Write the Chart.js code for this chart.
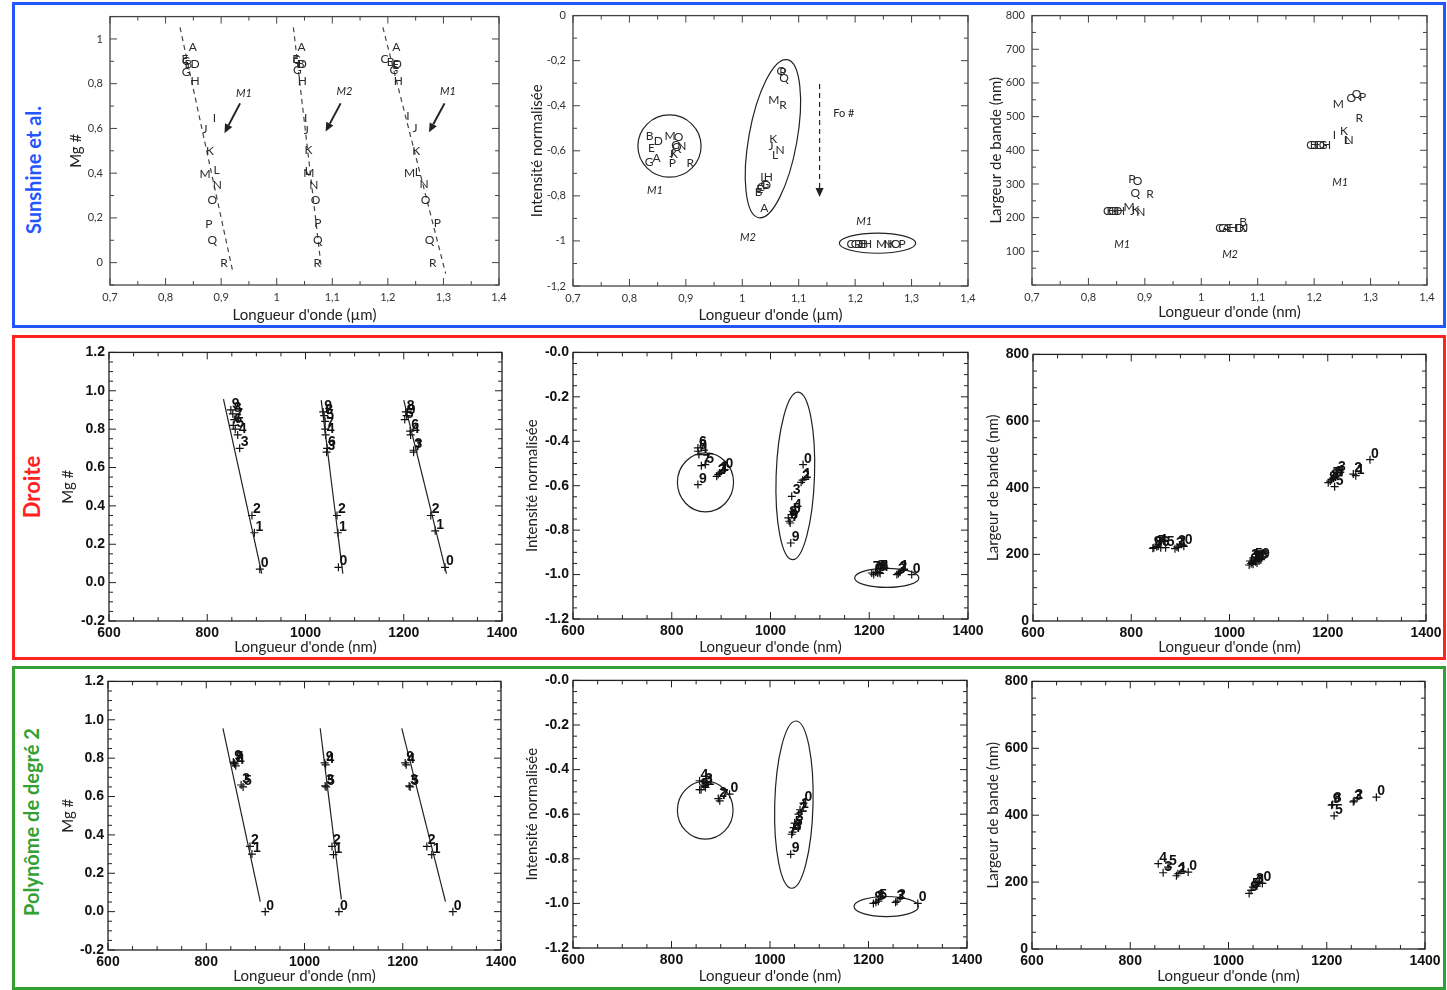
<!DOCTYPE html>
<html lang="fr">
<head>
<meta charset="utf-8">
<title>Mg# / intensité / largeur de bande</title>
<script src="https://cdn.jsdelivr.net/npm/chart.js@4.4.1/dist/chart.umd.min.js"></script>
<style>
  html, body { margin: 0; padding: 0; background: #fff; }
  body { position: relative; width: 1447px; height: 990px; overflow: hidden; font-family: Lato, sans-serif; }
  .cadre { position: absolute; box-sizing: border-box; border: 3px solid; }
  .titre-ligne { position: absolute; transform: translate(-50%, -50%) rotate(-90deg); font-weight: bold; font-size: 20px; white-space: nowrap; }
  canvas { position: absolute; }
</style>
</head>
<body>
<div class="cadre" style="left:12px;top:2px;width:1434px;height:326px;border-color:#2356ff"></div>
<div class="cadre" style="left:12px;top:335px;width:1434px;height:325px;border-color:#ff2222"></div>
<div class="cadre" style="left:12px;top:666px;width:1434px;height:324px;border-color:#33a033"></div>
<div class="titre-ligne" style="left:33px;top:170px;color:#2356ff">Sunshine et al.</div>
<div class="titre-ligne" style="left:31px;top:487px;color:#ff2222;font-size:22px">Droite</div>
<div class="titre-ligne" style="left:31px;top:822px;color:#33a033">Polynôme de degré 2</div>
<script>
// Graduations
const ticksMicron = [0.7, 0.8, 0.9, 1, 1.1, 1.2, 1.3, 1.4];
const ticksMgSun = [0, 0.2, 0.4, 0.6, 0.8, 1];
const ticksIntSun = [0, -0.2, -0.4, -0.6, -0.8, -1, -1.2];
const ticksLargSun = [100, 200, 300, 400, 500, 600, 700, 800];
const ticksNm = [600, 800, 1000, 1200, 1400];
const ticksMg = [-0.2, 0, 0.2, 0.4, 0.6, 0.8, 1, 1.2];
const ticksInt = [0, -0.2, -0.4, -0.6, -0.8, -1, -1.2];
const ticksLarg = [0, 200, 400, 600, 800];

// Sunshine et al. : Mg# (x en µm, y, échantillon)
const sunMgM1 = [[0.849,0.963,'A'],[0.837,0.899,'C'],[0.835,0.911,'E'],[0.841,0.889,'B'],[0.853,0.889,'D'],[0.837,0.852,'G'],[0.853,0.812,'H'],[0.888,0.648,'I'],[0.871,0.598,'J'],[0.880,0.498,'K'],[0.892,0.414,'L'],[0.871,0.394,'M'],[0.893,0.347,'N'],[0.884,0.281,'O'],[0.878,0.173,'P'],[0.884,0.102,'Q'],[0.905,0.0,'R']];
const sunMgM2 = [[1.0445,0.963,'A'],[1.036,0.905,'C'],[1.034,0.911,'E'],[1.043,0.889,'B'],[1.046,0.889,'D'],[1.037,0.86,'G'],[1.046,0.812,'H'],[1.052,0.648,'I'],[1.053,0.594,'J'],[1.057,0.501,'K'],[1.056,0.41,'L'],[1.058,0.402,'M'],[1.067,0.347,'N'],[1.070,0.281,'O'],[1.074,0.176,'P'],[1.074,0.099,'Q'],[1.073,0.0,'R']];
const sunMgM1b = [[1.215,0.963,'A'],[1.194,0.908,'C'],[1.205,0.896,'B'],[1.217,0.889,'D'],[1.214,0.884,'E'],[1.211,0.86,'G'],[1.219,0.812,'H'],[1.236,0.656,'I'],[1.249,0.601,'J'],[1.251,0.498,'K'],[1.254,0.405,'L'],[1.239,0.399,'M'],[1.265,0.350,'N'],[1.268,0.281,'O'],[1.289,0.177,'P'],[1.275,0.102,'Q'],[1.281,0.0,'R']];
const sunMgDroites = [[[0.826,1.052],[0.921,-0.041]], [[1.030,1.052],[1.080,-0.019]], [[1.191,1.052],[1.304,-0.049]]];

// Sunshine et al. : intensité normalisée
const sunIntM1 = [[0.836,-0.535,'B'],[0.851,-0.557,'D'],[0.872,-0.535,'M'],[0.887,-0.539,'O'],[0.881,-0.577,'C'],[0.884,-0.585,'Q'],[0.893,-0.579,'N'],[0.839,-0.586,'E'],[0.848,-0.633,'A'],[0.835,-0.652,'G'],[0.875,-0.612,'J'],[0.879,-0.615,'K'],[0.876,-0.655,'P'],[0.908,-0.655,'R']];
const sunIntM2 = [[1.069,-0.247,'O'],[1.072,-0.250,'P'],[1.074,-0.277,'Q'],[1.056,-0.373,'M'],[1.072,-0.398,'R'],[1.055,-0.550,'K'],[1.051,-0.579,'J'],[1.067,-0.599,'N'],[1.058,-0.619,'L'],[1.035,-0.716,'I'],[1.046,-0.716,'H'],[1.040,-0.749,'G'],[1.033,-0.760,'C'],[1.043,-0.752,'D'],[1.031,-0.770,'E'],[1.029,-0.785,'B'],[1.039,-0.855,'A']];
const sunIntM1b = [[1.192,-1.015,'C'],[1.200,-1.015,'G'],[1.206,-1.015,'D'],[1.211,-1.015,'E'],[1.216,-1.015,'B'],[1.222,-1.015,'H'],[1.247,-1.015,'M'],[1.258,-1.015,'N'],[1.264,-1.015,'K'],[1.272,-1.015,'O'],[1.283,-1.015,'P']];

// Sunshine et al. : largeur de bande
const sunLargM1 = [[0.833,219,'C'],[0.838,219,'E'],[0.843,219,'G'],[0.847,219,'B'],[0.852,219,'D'],[0.857,219,'H'],[0.872,231,'M'],[0.878,219,'J'],[0.884,222,'K'],[0.893,217,'N'],[0.877,314,'P'],[0.887,307,'O'],[0.883,272,'Q'],[0.909,270,'R']];
const sunLargM2 = [[1.032,168,'C'],[1.038,168,'G'],[1.044,168,'A'],[1.050,168,'E'],[1.056,168,'H'],[1.062,168,'I'],[1.068,168,'D'],[1.074,168,'K'],[1.079,168,'J'],[1.074,188,'B']];
const sunLargM1b = [[1.193,416,'C'],[1.199,416,'B'],[1.205,416,'E'],[1.211,416,'D'],[1.216,416,'G'],[1.222,416,'H'],[1.236,444,'I'],[1.253,457,'K'],[1.258,431,'L'],[1.262,431,'N'],[1.243,536,'M'],[1.266,554,'O'],[1.275,567,'Q'],[1.286,559,'P'],[1.280,497,'R']];

// Droite : Mg#
const droiteMgG1 = [[848,0.90,'9'],[852,0.88,'8'],[855,0.85,'7'],[853,0.82,'6'],[857,0.80,'5'],[862,0.77,'4'],[866,0.70,'3'],[891,0.35,'2'],[896,0.26,'1'],[907,0.07,'0']];
const droiteMgG2 = [[1036,0.89,'9'],[1038,0.87,'8'],[1040,0.84,'5'],[1040,0.80,'7'],[1041,0.77,'4'],[1044,0.70,'6'],[1043,0.68,'3'],[1064,0.35,'2'],[1066,0.26,'1'],[1067,0.08,'0']];
const droiteMgG3 = [[1204,0.89,'8'],[1206,0.87,'9'],[1202,0.85,'5'],[1213,0.79,'6'],[1214,0.77,'4'],[1220,0.69,'3'],[1220,0.68,'7'],[1255,0.35,'2'],[1264,0.27,'1'],[1284,0.08,'0']];
const droiteMgFits = [[[833,0.957],[911,0.047]], [[1032,0.951],[1076,0.047]], [[1200,0.951],[1287,0.047]]];

// Droite : intensité
const droiteIntG1 = [[853,-0.43,'6'],[853,-0.445,'8'],[855,-0.46,'4'],[868,-0.505,'5'],[860,-0.51,'7'],[853,-0.595,'9'],[891,-0.558,'2'],[894,-0.55,'3'],[897,-0.543,'1'],[907,-0.528,'0']];
const droiteIntG2 = [[1066,-0.505,'0'],[1065,-0.575,'1'],[1062,-0.585,'2'],[1043,-0.648,'3'],[1045,-0.715,'4'],[1043,-0.73,'5'],[1038,-0.76,'6'],[1040,-0.768,'7'],[1036,-0.745,'8'],[1041,-0.858,'9']];
const droiteIntG3 = [[1205,-0.993,'7'],[1209,-1.0,'9'],[1213,-0.99,'8'],[1217,-0.993,'6'],[1220,-0.99,'5'],[1222,-0.995,'4'],[1256,-1.0,'3'],[1259,-0.995,'2'],[1262,-0.99,'1'],[1286,-1.0,'0']];

// Droite : largeur de bande
const droiteLargG1 = [[844,218,'9'],[846,220,'8'],[852,223,'7'],[860,220,'6'],[870,220,'5'],[855,225,'4'],[889,217,'3'],[893,222,'2'],[896,220,'1'],[907,224,'0']];
const droiteLargG2 = [[1040,168,'0'],[1044,172,'1'],[1046,176,'2'],[1042,180,'3'],[1048,170,'4'],[1050,182,'5'],[1053,178,'6'],[1056,174,'7'],[1060,180,'8'],[1064,184,'9']];
const droiteLargG3 = [[1201,415,'9'],[1205,420,'8'],[1208,425,'7'],[1212,428,'6'],[1214,403,'5'],[1216,432,'4'],[1219,444,'3'],[1252,441,'2'],[1257,436,'1'],[1286,484,'0']];

// Polynôme de degré 2 : Mg#
const polyMgG1 = [[855,0.78,'9'],[857,0.775,'7'],[858,0.77,'8'],[860,0.76,'4'],[871,0.66,'3'],[875,0.65,'5'],[889,0.34,'2'],[893,0.30,'1'],[920,0.0,'0']];
const polyMgG2 = [[1041,0.775,'9'],[1043,0.765,'4'],[1042,0.655,'3'],[1044,0.65,'5'],[1056,0.34,'2'],[1059,0.297,'1'],[1070,0.0,'0']];
const polyMgG3 = [[1205,0.775,'9'],[1207,0.765,'4'],[1213,0.655,'3'],[1215,0.65,'5'],[1249,0.34,'2'],[1259,0.297,'1'],[1302,0.0,'0']];
const polyMgFits = [[[834,0.955],[910,0.052]], [[1032,0.955],[1075,0.064]], [[1198,0.955],[1287,0.052]]];

// Polynôme de degré 2 : intensité
const polyIntG1 = [[857,-0.45,'4'],[866,-0.47,'3'],[869,-0.48,'1'],[860,-0.49,'5'],[857,-0.49,'9'],[895,-0.53,'2'],[898,-0.54,'7'],[918,-0.51,'0']];
const polyIntG2 = [[1068,-0.55,'0'],[1061,-0.58,'1'],[1058,-0.60,'2'],[1050,-0.64,'3'],[1048,-0.66,'5'],[1046,-0.68,'8'],[1044,-0.69,'4'],[1042,-0.78,'9']];
const polyIntG3 = [[1210,-1.0,'9'],[1215,-0.995,'8'],[1220,-0.99,'5'],[1255,-0.995,'3'],[1258,-0.99,'2'],[1300,-1.0,'0']];

// Polynôme de degré 2 : largeur de bande
const polyLargG1 = [[857,255,'4'],[877,245,'5'],[867,228,'3'],[894,219,'2'],[897,225,'1'],[918,230,'0']];
const polyLargG2 = [[1042,166,'9'],[1046,175,'5'],[1050,185,'4'],[1054,191,'3'],[1058,188,'1'],[1069,196,'0']];
const polyLargG3 = [[1210,430,'9'],[1212,432,'8'],[1215,398,'5'],[1254,440,'3'],[1256,443,'2'],[1301,454,'0']];

// Formats des graduations
const fmtVirgule = (v) => String(+v.toFixed(2)).replace('.', ',');
const fmtDecimal = (v) => v.toFixed(1);
const fmtNegatif = (v) => '-' + Math.abs(v).toFixed(1);
const fmtEntier = (v) => String(v);

const styleSun = {
  tickFont: { family: 'Lato', size: 11 }, tickColor: '#333', yPad: 7, xPad: 6,
  titleFont: { family: 'Lato', size: 15 }, titleColor: '#222', frame: '#444'
};
const styleIdl = {
  tickFont: { family: "'Liberation Sans', Arial", size: 14, weight: 'bold' }, tickColor: '#111', yPad: 4, xPad: 4,
  titleFont: { family: 'Lato', size: 15 }, titleColor: '#222', frame: '#222'
};

const pts = (arr) => arr.map((p) => ({ x: p[0], y: p[1] }));

function lettres(arr) {
  return {
    data: pts(arr), pointTexts: arr.map((p) => p[2]), pointRadius: 0,
    textFont: '12px Lato', textColor: '#2a2a2a', textDx: 0, textDy: 0, textAlign: 'center', textBaseline: 'middle'
  };
}
function croix(arr) {
  return {
    data: pts(arr), pointTexts: arr.map((p) => p[2]), pointStyle: 'cross', pointRadius: 4,
    borderColor: '#111', borderWidth: 1.2,
    textFont: "bold 14px 'Liberation Sans', Arial", textColor: '#111', textDx: 1, textDy: -2, textAlign: 'left', textBaseline: 'alphabetic'
  };
}
function trait(seg, dash, color) {
  return { data: pts(seg), showLine: true, pointRadius: 0, borderColor: color, borderWidth: 1.2, borderDash: dash };
}

function fleche(ctx, x1, y1, x2, y2, dash, head) {
  const ang = Math.atan2(y2 - y1, x2 - x1);
  const bx = x2 - head * Math.cos(ang), by = y2 - head * Math.sin(ang);
  ctx.setLineDash(dash);
  ctx.beginPath(); ctx.moveTo(x1, y1); ctx.lineTo(bx, by); ctx.stroke();
  ctx.setLineDash([]);
  const w = head * 0.45;
  ctx.beginPath();
  ctx.moveTo(x2, y2);
  ctx.lineTo(bx + w * Math.sin(ang), by - w * Math.cos(ang));
  ctx.lineTo(bx - w * Math.sin(ang), by + w * Math.cos(ang));
  ctx.closePath(); ctx.fill();
}

// Ellipses, étiquettes, annotations, cadre et graduations intérieures
function extras(cfg) {
  return {
    id: 'extras',
    afterDatasetsDraw(chart) {
      const { ctx, chartArea: a, scales: { x, y } } = chart;
      const px = (v) => x.getPixelForValue(v), py = (v) => y.getPixelForValue(v);
      ctx.save();
      ctx.strokeStyle = '#222'; ctx.fillStyle = '#222'; ctx.lineWidth = 1.2;
      (cfg.ellipses || []).forEach((e) => {
        const x1 = px(e[0]), y1 = py(e[1]), x2 = px(e[2]), y2 = py(e[3]);
        const r = Math.hypot(x2 - x1, y2 - y1) / 2;
        ctx.beginPath();
        ctx.ellipse((x1 + x2) / 2, (y1 + y2) / 2, r, r * e[4], Math.atan2(y2 - y1, x2 - x1), 0, Math.PI * 2);
        ctx.stroke();
      });
      chart.data.datasets.forEach((ds, i) => {
        if (!ds.pointTexts) return;
        ctx.font = ds.textFont; ctx.fillStyle = ds.textColor;
        ctx.textAlign = ds.textAlign; ctx.textBaseline = ds.textBaseline;
        chart.getDatasetMeta(i).data.forEach((el, j) => {
          ctx.fillText(ds.pointTexts[j], el.x + ds.textDx, el.y + ds.textDy);
        });
      });
      ctx.fillStyle = '#222'; ctx.textAlign = 'center'; ctx.textBaseline = 'middle';
      (cfg.notes || []).forEach((n) => {
        ctx.font = n.font;
        ctx.fillText(n.t, px(n.x), py(n.y));
      });
      (cfg.arrows || []).forEach((r) => {
        ctx.lineWidth = r.w;
        fleche(ctx, px(r.x1), py(r.y1), px(r.x2), py(r.y2), r.dash, r.head);
      });
      // cadre
      ctx.strokeStyle = cfg.style.frame; ctx.lineWidth = 1.3;
      ctx.strokeRect(a.left, a.top, a.right - a.left, a.bottom - a.top);
      ctx.lineWidth = 1;
      [x, y].forEach((s) => {
        const step = s.options.minorStep;
        const n = Math.round((s.max - s.min) / step);
        const majors = s.ticks.map((t) => t.value);
        for (let i = 0; i <= n; i++) {
          const v = s.min + i * step;
          const len = majors.some((m) => Math.abs(m - v) < step * 1e-3) ? 7 : 4;
          const p = s.getPixelForValue(v);
          ctx.beginPath();
          if (s === x) {
            ctx.moveTo(p, a.bottom); ctx.lineTo(p, a.bottom - len);
            ctx.moveTo(p, a.top); ctx.lineTo(p, a.top + len);
          } else {
            ctx.moveTo(a.left, p); ctx.lineTo(a.left + len, p);
            ctx.moveTo(a.right, p); ctx.lineTo(a.right - len, p);
          }
          ctx.stroke();
        }
      });
      ctx.restore();
    }
  };
}

function panneau(g, cfg) {
  const st = cfg.style;
  const cx = Math.round(g.yt - 12), ct = g.T - 12, cr = g.R + 25, cb = Math.round(g.xt + 12);
  const cv = document.createElement('canvas');
  cv.width = cr - cx; cv.height = cb - ct;
  cv.style.left = cx + 'px'; cv.style.top = ct + 'px';
  cv.style.width = (cr - cx) + 'px'; cv.style.height = (cb - ct) + 'px';
  document.body.appendChild(cv);
  const yw = g.L - cx, xh = cb - g.B;
  const tp = 12 - st.titleFont.size * 0.6;
  const axe = (ax, pos) => ({
    type: 'linear', position: pos, min: ax.min, max: ax.max, minorStep: ax.minor,
    afterBuildTicks: (s) => { s.ticks = ax.ticks.map((v) => ({ value: v })); },
    afterFit: (s) => { if (pos === 'left') s.width = yw; else s.height = xh; },
    grid: { display: false, drawTicks: false },
    border: { display: false },
    ticks: {
      callback: ax.fmt, font: st.tickFont, color: st.tickColor,
      padding: pos === 'left' ? st.yPad : st.xPad, maxRotation: 0, autoSkip: false
    },
    title: {
      display: true, text: ax.title, font: st.titleFont, color: st.titleColor,
      padding: pos === 'left' ? { top: tp, bottom: 0 } : { top: 0, bottom: tp }
    }
  });
  return new Chart(cv, {
    type: 'scatter',
    data: { datasets: cfg.datasets },
    options: {
      responsive: false, animation: false, events: [],
      layout: { padding: { top: 12, right: 25, left: 0, bottom: 0 } },
      plugins: { legend: { display: false }, tooltip: { enabled: false } },
      scales: { x: axe(cfg.x, 'bottom'), y: axe(cfg.y, 'left') }
    },
    plugins: [extras(cfg)]
  });
}

const axeMicron = { min: 0.7, max: 1.4, minor: 0.05, ticks: ticksMicron, fmt: fmtVirgule, title: "Longueur d'onde (µm)" };
const axeMicronNm = { min: 0.7, max: 1.4, minor: 0.05, ticks: ticksMicron, fmt: fmtVirgule, title: "Longueur d'onde (nm)" };
const axeNm = { min: 600, max: 1400, minor: 50, ticks: ticksNm, fmt: fmtEntier, title: "Longueur d'onde (nm)" };
const axeMg = { min: -0.2, max: 1.2, minor: 0.05, ticks: ticksMg, fmt: fmtDecimal, title: 'Mg #' };
const axeInt = { min: -1.2, max: 0, minor: 0.05, ticks: ticksInt, fmt: fmtNegatif, title: 'Intensité normalisée' };
const axeLarg = { min: 0, max: 800, minor: 50, ticks: ticksLarg, fmt: fmtEntier, title: 'Largeur de bande (nm)' };

const italique = 'italic 11px Lato';

// Ligne 1 : Sunshine et al.
panneau({ L: 110, T: 15, R: 499, B: 285, yt: 76, xt: 315 }, {
  style: styleSun,
  x: axeMicron,
  y: { min: -0.1, max: 1.1, minor: 0.1, ticks: ticksMgSun, fmt: fmtVirgule, title: 'Mg #' },
  datasets: [
    trait(sunMgDroites[0], [5, 4], '#444'), trait(sunMgDroites[1], [5, 4], '#444'), trait(sunMgDroites[2], [5, 4], '#444'),
    lettres(sunMgM1), lettres(sunMgM2), lettres(sunMgM1b)
  ],
  notes: [
    { t: 'M1', x: 0.941, y: 0.756, font: italique },
    { t: 'M2', x: 1.122, y: 0.764, font: italique },
    { t: 'M1', x: 1.308, y: 0.764, font: italique }
  ],
  arrows: [
    { x1: 0.934, y1: 0.712, x2: 0.906, y2: 0.579, dash: [], head: 9, w: 2 },
    { x1: 1.115, y1: 0.712, x2: 1.088, y2: 0.586, dash: [], head: 9, w: 2 },
    { x1: 1.302, y1: 0.712, x2: 1.274, y2: 0.583, dash: [], head: 9, w: 2 }
  ]
});

panneau({ L: 573, T: 14, R: 968, B: 286, yt: 537, xt: 315 }, {
  style: styleSun,
  x: axeMicron,
  y: { min: -1.2, max: 0, minor: 0.1, ticks: ticksIntSun, fmt: fmtVirgule, title: 'Intensité normalisée' },
  datasets: [lettres(sunIntM1), lettres(sunIntM2), lettres(sunIntM1b)],
  ellipses: [
    [0.871, -0.441, 0.871, -0.717, 1.016],
    [1.0796, -0.1956, 1.029, -0.897, 0.30],
    [1.172, -1.010, 1.3073, -1.010, 0.263]
  ],
  notes: [
    { t: 'M1', x: 0.845, y: -0.778, font: italique },
    { t: 'M2', x: 1.010, y: -0.985, font: italique },
    { t: 'M1', x: 1.216, y: -0.914, font: italique },
    { t: 'Fo #', x: 1.180, y: -0.436, font: '11px Lato' }
  ],
  arrows: [{ x1: 1.137, y1: -0.303, x2: 1.137, y2: -0.805, dash: [5, 4], head: 9, w: 1.2 }]
});

panneau({ L: 1032, T: 14, R: 1427, B: 285, yt: 996, xt: 312 }, {
  style: styleSun,
  x: axeMicronNm,
  y: { min: 0, max: 800, minor: 50, ticks: ticksLargSun, fmt: fmtEntier, title: 'Largeur de bande (nm)' },
  datasets: [lettres(sunLargM1), lettres(sunLargM2), lettres(sunLargM1b)],
  notes: [
    { t: 'M1', x: 0.860, y: 120, font: italique },
    { t: 'M2', x: 1.051, y: 90, font: italique },
    { t: 'M1', x: 1.246, y: 306, font: italique }
  ]
});

// Ligne 2 : Droite
panneau({ L: 109, T: 352, R: 502, B: 621, yt: 68, xt: 647 }, {
  style: styleIdl, x: axeNm, y: axeMg,
  datasets: [
    trait(droiteMgFits[0], [], '#222'), trait(droiteMgFits[1], [], '#222'), trait(droiteMgFits[2], [], '#222'),
    croix(droiteMgG1), croix(droiteMgG2), croix(droiteMgG3)
  ]
});

panneau({ L: 573, T: 352, R: 968, B: 619, yt: 532, xt: 647 }, {
  style: styleIdl, x: axeNm, y: axeInt,
  datasets: [croix(droiteIntG1), croix(droiteIntG2), croix(droiteIntG3)],
  ellipses: [
    [868.3, -0.452, 868.3, -0.718, 0.95],
    [1056, -0.179, 1044.5, -0.933, 0.229],
    [1170.5, -1.015, 1300.5, -1.015, 0.297]
  ]
});

panneau({ L: 1033, T: 354, R: 1426, B: 621, yt: 993, xt: 647 }, {
  style: styleIdl, x: axeNm, y: axeLarg,
  datasets: [croix(droiteLargG1), croix(droiteLargG2), croix(droiteLargG3)]
});

// Ligne 3 : Polynôme de degré 2
panneau({ L: 108, T: 681, R: 501, B: 950, yt: 68, xt: 976 }, {
  style: styleIdl, x: axeNm, y: axeMg,
  datasets: [
    trait(polyMgFits[0], [], '#222'), trait(polyMgFits[1], [], '#222'), trait(polyMgFits[2], [], '#222'),
    croix(polyMgG1), croix(polyMgG2), croix(polyMgG3)
  ]
});

panneau({ L: 573, T: 680, R: 967, B: 948, yt: 532, xt: 976 }, {
  style: styleIdl, x: axeNm, y: axeInt,
  datasets: [croix(polyIntG1), croix(polyIntG2), croix(polyIntG3)],
  ellipses: [
    [868.5, -0.452, 868.5, -0.712, 0.96],
    [1052.9, -0.182, 1044, -0.932, 0.229],
    [1170.6, -1.014, 1301.4, -1.014, 0.311]
  ]
});

panneau({ L: 1032, T: 681, R: 1425, B: 949, yt: 993, xt: 976 }, {
  style: styleIdl, x: axeNm, y: axeLarg,
  datasets: [croix(polyLargG1), croix(polyLargG2), croix(polyLargG3)]
});
</script>
</body>
</html>
